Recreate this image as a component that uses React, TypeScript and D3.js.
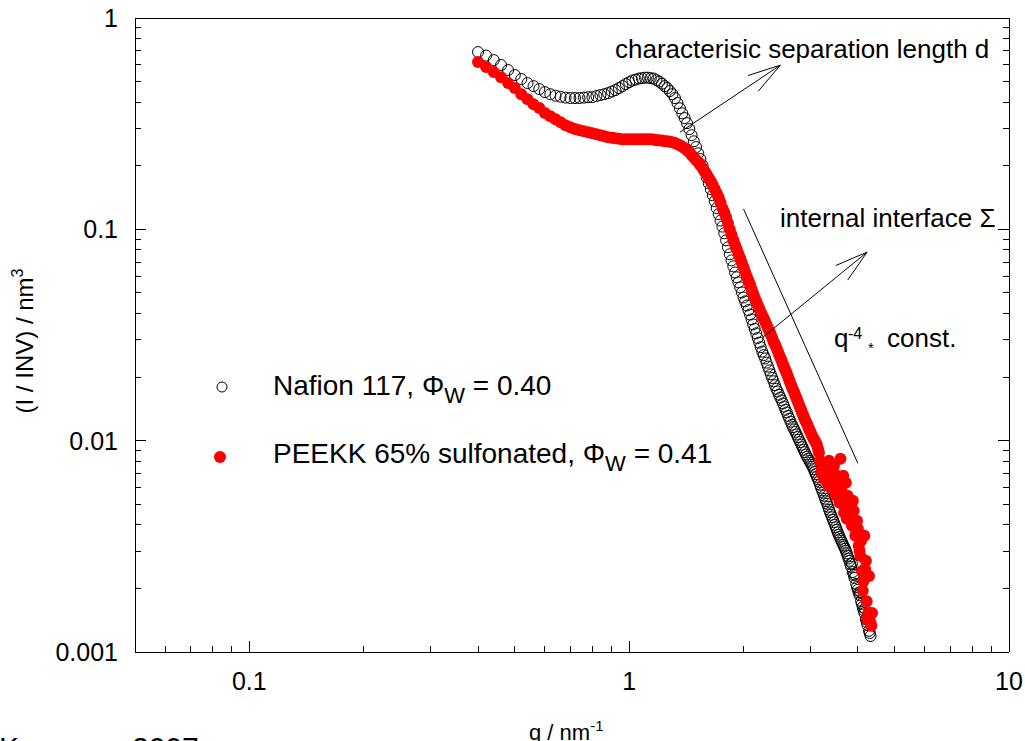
import React from 'react';
import * as d3 from 'd3';

// SAXS curves: normalised scattering intensity (I / INV, nm^3) versus q (nm^-1)
const nafion: [number, number][] = [
  [0.40, 0.690], [0.42, 0.664], [0.44, 0.632], [0.46, 0.599], [0.48, 0.567], [0.50, 0.537],
  [0.52, 0.514], [0.54, 0.492], [0.56, 0.476], [0.58, 0.461], [0.60, 0.446], [0.62, 0.436],
  [0.64, 0.429], [0.66, 0.424], [0.68, 0.420], [0.70, 0.418], [0.72, 0.418], [0.74, 0.418],
  [0.76, 0.420], [0.78, 0.422], [0.80, 0.422], [0.82, 0.427], [0.84, 0.432], [0.86, 0.436],
  [0.88, 0.441], [0.90, 0.449], [0.92, 0.456], [0.94, 0.466], [0.96, 0.476], [0.98, 0.487],
  [1.00, 0.497], [1.02, 0.506], [1.04, 0.511], [1.06, 0.517], [1.08, 0.519], [1.10, 0.522],
  [1.12, 0.522], [1.14, 0.519], [1.16, 0.517], [1.18, 0.508], [1.20, 0.500], [1.22, 0.489],
  [1.24, 0.476], [1.26, 0.466], [1.28, 0.451], [1.30, 0.436], [1.32, 0.418], [1.34, 0.396],
  [1.36, 0.374], [1.38, 0.354], [1.40, 0.336], [1.42, 0.318], [1.44, 0.298], [1.46, 0.279],
  [1.48, 0.261], [1.50, 0.245], [1.52, 0.229], [1.54, 0.215], [1.56, 0.201], [1.58, 0.188],
  [1.60, 0.176], [1.62, 0.165], [1.64, 0.155], [1.66, 0.145], [1.68, 0.136], [1.70, 0.126],
  [1.72, 0.118], [1.74, 0.110], [1.76, 0.103], [1.78, 0.0958], [1.80, 0.0887], [1.82, 0.0822],
  [1.84, 0.0762], [1.86, 0.0713], [1.88, 0.0668], [1.90, 0.0625], [1.92, 0.0593], [1.94, 0.0561],
  [1.96, 0.0531], [1.98, 0.0503], [2.00, 0.0476], [2.02, 0.0456], [2.04, 0.0436], [2.06, 0.0415],
  [2.08, 0.0395], [2.10, 0.0375], [2.12, 0.0355], [2.14, 0.0338], [2.16, 0.0322], [2.18, 0.0306],
  [2.20, 0.0291], [2.22, 0.0277], [2.24, 0.0264], [2.26, 0.0254], [2.28, 0.0245], [2.30, 0.0234],
  [2.32, 0.0224], [2.34, 0.0215], [2.36, 0.0206], [2.38, 0.0198], [2.40, 0.0191], [2.42, 0.0183],
  [2.44, 0.0176], [2.46, 0.0171], [2.48, 0.0165], [2.50, 0.0160], [2.52, 0.0155], [2.54, 0.0150],
  [2.56, 0.0145], [2.58, 0.0140], [2.60, 0.0136], [2.62, 0.0131], [2.64, 0.0127], [2.66, 0.0123],
  [2.68, 0.0119], [2.70, 0.0116], [2.72, 0.0113], [2.74, 0.0110], [2.76, 0.0107], [2.78, 0.0104],
  [2.80, 0.0101], [2.82, 0.00984], [2.84, 0.00957], [2.86, 0.00932], [2.88, 0.00906], [2.90, 0.00882],
  [2.92, 0.00859], [2.94, 0.00840], [2.96, 0.00822], [2.98, 0.00804], [3.00, 0.00787], [3.02, 0.00769],
  [3.04, 0.00753], [3.06, 0.00733], [3.08, 0.00713], [3.10, 0.00694], [3.12, 0.00675], [3.14, 0.00657],
  [3.16, 0.00639], [3.18, 0.00619], [3.20, 0.00599], [3.22, 0.00582], [3.24, 0.00567], [3.26, 0.00549],
  [3.28, 0.00531], [3.30, 0.00517], [3.32, 0.00503], [3.34, 0.00487], [3.36, 0.00471], [3.38, 0.00458],
  [3.40, 0.00446], [3.42, 0.00434], [3.44, 0.00422], [3.46, 0.00411], [3.48, 0.00400], [3.50, 0.00389],
  [3.52, 0.00379], [3.54, 0.00368], [3.56, 0.00359], [3.58, 0.00351], [3.60, 0.00343], [3.62, 0.00336],
  [3.64, 0.00329], [3.66, 0.00321], [3.68, 0.00315], [3.70, 0.00308], [3.72, 0.00301], [3.74, 0.00293],
  [3.76, 0.00285], [3.78, 0.00277], [3.80, 0.00270], [3.82, 0.00261], [3.84, 0.00253], [3.86, 0.00262],
  [3.88, 0.00239], [3.90, 0.00232], [3.92, 0.00224], [3.94, 0.00232], [3.96, 0.00210], [3.98, 0.00203],
  [4.00, 0.00197], [4.02, 0.00191], [4.04, 0.00186], [4.06, 0.00192], [4.08, 0.00174], [4.10, 0.00169],
  [4.12, 0.00163], [4.14, 0.00158], [4.16, 0.00153], [4.18, 0.00160], [4.20, 0.00143], [4.22, 0.00139],
  [4.24, 0.00134], [4.26, 0.00145], [4.28, 0.00126], [4.30, 0.00123], [4.32, 0.00119],
];

const peekk: [number, number][] = [
  [0.40, 0.619], [0.42, 0.586], [0.44, 0.555], [0.46, 0.525], [0.48, 0.492], [0.50, 0.466],
  [0.52, 0.436], [0.54, 0.413], [0.56, 0.391], [0.58, 0.375], [0.60, 0.355], [0.62, 0.343],
  [0.64, 0.332], [0.66, 0.321], [0.68, 0.311], [0.70, 0.304], [0.72, 0.298], [0.74, 0.294],
  [0.76, 0.291], [0.78, 0.288], [0.80, 0.285], [0.82, 0.282], [0.84, 0.279], [0.86, 0.276],
  [0.88, 0.273], [0.90, 0.271], [0.92, 0.270], [0.94, 0.268], [0.96, 0.267], [0.98, 0.267],
  [1.00, 0.267], [1.02, 0.267], [1.04, 0.267], [1.06, 0.267], [1.08, 0.267], [1.10, 0.267],
  [1.12, 0.267], [1.14, 0.267], [1.16, 0.266], [1.18, 0.264], [1.20, 0.264], [1.22, 0.263],
  [1.24, 0.261], [1.26, 0.261], [1.28, 0.260], [1.30, 0.258], [1.32, 0.256], [1.34, 0.253],
  [1.36, 0.250], [1.38, 0.246], [1.40, 0.242], [1.42, 0.237], [1.44, 0.232], [1.46, 0.225],
  [1.48, 0.219], [1.50, 0.213], [1.52, 0.208], [1.54, 0.201], [1.56, 0.195], [1.58, 0.188],
  [1.60, 0.182], [1.62, 0.175], [1.64, 0.169], [1.66, 0.162], [1.68, 0.155], [1.70, 0.148],
  [1.72, 0.142], [1.74, 0.134], [1.76, 0.126], [1.78, 0.120], [1.80, 0.114], [1.82, 0.107],
  [1.84, 0.100], [1.86, 0.0942], [1.88, 0.0887], [1.90, 0.0844], [1.92, 0.0804], [1.94, 0.0765],
  [1.96, 0.0730], [1.98, 0.0694], [2.00, 0.0661], [2.02, 0.0629], [2.04, 0.0599], [2.06, 0.0573],
  [2.08, 0.0549], [2.10, 0.0522], [2.12, 0.0497], [2.14, 0.0476], [2.16, 0.0456], [2.18, 0.0439],
  [2.20, 0.0422], [2.22, 0.0406], [2.24, 0.0391], [2.26, 0.0379], [2.28, 0.0366], [2.30, 0.0353],
  [2.32, 0.0340], [2.34, 0.0329], [2.36, 0.0318], [2.38, 0.0306], [2.40, 0.0294], [2.42, 0.0285],
  [2.44, 0.0276], [2.46, 0.0266], [2.48, 0.0256], [2.50, 0.0247], [2.52, 0.0239], [2.54, 0.0230],
  [2.56, 0.0222], [2.58, 0.0215], [2.60, 0.0208], [2.62, 0.0200], [2.64, 0.0193], [2.66, 0.0186],
  [2.68, 0.0180], [2.70, 0.0174], [2.72, 0.0169], [2.74, 0.0163], [2.76, 0.0158], [2.78, 0.0153],
  [2.80, 0.0148], [2.82, 0.0143], [2.84, 0.0139], [2.86, 0.0134], [2.88, 0.0130], [2.90, 0.0126],
  [2.92, 0.0123], [2.94, 0.0120], [2.96, 0.0116], [2.98, 0.0113], [3.00, 0.0110], [3.02, 0.0107],
  [3.04, 0.0104], [3.06, 0.0102], [3.08, 0.0100], [3.10, 0.00978], [3.12, 0.00957], [3.14, 0.00917],
  [3.16, 0.00877], [3.18, 0.00804], [3.20, 0.00705], [3.22, 0.00737], [3.24, 0.00787], [3.26, 0.00660],
  [3.28, 0.00737], [3.30, 0.00787], [3.32, 0.00705], [3.34, 0.00612], [3.36, 0.00804], [3.38, 0.00721],
  [3.40, 0.00660], [3.42, 0.00592], [3.44, 0.00721], [3.46, 0.00761], [3.48, 0.00612], [3.50, 0.00549],
  [3.52, 0.00683], [3.54, 0.00632], [3.56, 0.00567], [3.58, 0.00508], [3.60, 0.00822], [3.62, 0.00579],
  [3.64, 0.00519], [3.66, 0.00683], [3.68, 0.00456], [3.70, 0.00476], [3.72, 0.00632], [3.74, 0.00427],
  [3.76, 0.00549], [3.78, 0.00519], [3.80, 0.00427], [3.82, 0.00456], [3.84, 0.00492], [3.86, 0.00396],
  [3.88, 0.00519], [3.90, 0.00466], [3.92, 0.00409], [3.94, 0.00355], [3.96, 0.00375], [3.98, 0.00418],
  [4.00, 0.00383], [4.02, 0.00318], [4.04, 0.00301], [4.06, 0.00285], [4.08, 0.00336], [4.10, 0.00242],
  [4.12, 0.00195], [4.14, 0.00217], [4.16, 0.00355], [4.18, 0.00247], [4.20, 0.00270], [4.22, 0.00174],
  [4.24, 0.00143], [4.26, 0.00153], [4.28, 0.00229], [4.30, 0.00140], [4.32, 0.00137], [4.34, 0.00133],
  [4.36, 0.00153],
];

// Axis decades and their labels
const xMajor = [0.1, 1, 10];
const xMajorLabels = ['0.1', '1', '10'];
const yMajor = [0.001, 0.01, 0.1, 1];
const yMajorLabels = ['0.001', '0.01', '0.1', '1'];

// Porod guide line I = C * q^-4 over a q range
const porodRange = [2.0, 4.0];
const porodConst = 2.0;

// Annotation arrows: [tail q, tail I, tip q, tip I]
const arrowSpacing = [1.36, 0.288, 2.5, 0.598];
const arrowInterface = [2.25, 0.0309, 4.23, 0.078];

const FONT = "'Liberation Sans', Arial, Helvetica, sans-serif";

function Arrow({ x1, y1, x2, y2 }: { x1: number; y1: number; x2: number; y2: number }) {
  const ang = Math.atan2(y1 - y2, x1 - x2);
  const len = 34;
  const spread = (16 * Math.PI) / 180;
  const hx1 = x2 + len * Math.cos(ang + spread);
  const hy1 = y2 + len * Math.sin(ang + spread);
  const hx2 = x2 + len * Math.cos(ang - spread);
  const hy2 = y2 + len * Math.sin(ang - spread);
  return (
    <g stroke="#000" strokeWidth={1} fill="none">
      <line x1={x1} y1={y1} x2={x2} y2={y2} />
      <line x1={x2} y1={y2} x2={hx1} y2={hy1} />
      <line x1={x2} y1={y2} x2={hx2} y2={hy2} />
    </g>
  );
}

export default function App() {
  const x = d3.scaleLog().domain([0.05, 10]).range([135, 1009]);
  const y = d3.scaleLog().domain([0.001, 1]).range([652, 18]);
  const [xl, xr] = x.range();
  const [yb, yt] = y.range();

  const isMajor = (v: number) => Math.abs(Math.log10(v) - Math.round(Math.log10(v))) < 1e-6;
  const xTicks = x.ticks();
  const yTicks = y.ticks();
  const majorLen = 11;
  const minorLen = 6;

  const porodQ = d3.range(porodRange[0], porodRange[1] + 1e-9, (porodRange[1] - porodRange[0]) / 20);
  const porodLine = d3
    .line<number>()
    .x((q) => x(q))
    .y((q) => y(porodConst * Math.pow(q, -4)))(porodQ);

  return (
    <svg
      width={1025}
      height={741}
      style={{ position: 'absolute', left: 0, top: 0, background: '#fff' }}
      fontFamily={FONT}
    >
      <rect x={0} y={0} width={1025} height={741} fill="#fff" />

      {/* frame */}
      <g stroke="#000" strokeWidth={1} fill="none" shapeRendering="crispEdges">
        <line x1={xl} y1={yt} x2={xr} y2={yt} />
        <line x1={xl} y1={yb} x2={xr} y2={yb} />
        <line x1={xl} y1={yt} x2={xl} y2={yb} />
        <line x1={xr} y1={yt} x2={xr} y2={yb} />
      </g>

      {/* x ticks (bottom, pointing inward) */}
      <g stroke="#000" strokeWidth={1} shapeRendering="crispEdges">
        {xTicks.map((v, i) => {
          const px = x(v);
          const L = isMajor(v) ? majorLen : minorLen;
          return <line key={i} x1={px} y1={yb} x2={px} y2={yb - L} />;
        })}
      </g>
      {/* y ticks on left and right, pointing inward */}
      <g stroke="#000" strokeWidth={1} shapeRendering="crispEdges">
        {yTicks.map((v, i) => {
          const py = y(v);
          const L = isMajor(v) ? majorLen : minorLen;
          return (
            <g key={i}>
              <line x1={xl} y1={py} x2={xl + L} y2={py} />
              <line x1={xr} y1={py} x2={xr - L} y2={py} />
            </g>
          );
        })}
      </g>

      {/* tick labels */}
      <g fontSize={25} fill="#000">
        {xMajor.map((v, i) => (
          <text key={i} x={x(v)} y={690} textAnchor="middle">
            {xMajorLabels[i]}
          </text>
        ))}
        {yMajor.map((v, i) => (
          <text key={i} x={118} y={y(v) + 9} textAnchor="end">
            {yMajorLabels[i]}
          </text>
        ))}
      </g>

      {/* axis titles */}
      <text x={529} y={740} fontSize={22}>
        q / nm
        <tspan fontSize={15} dy={-9}>
          -1
        </tspan>
      </text>
      <text transform="translate(33,341) rotate(-90)" textAnchor="middle" fontSize={24}>
        (I / INV) / nm
        <tspan fontSize={16} dy={-10}>
          3
        </tspan>
      </text>

      {/* Porod q^-4 guide */}
      <path d={porodLine || ''} stroke="#000" strokeWidth={1} fill="none" />

      {/* data */}
      <g fill="none" stroke="#000" strokeWidth={1}>
        {nafion.map(([q, v], i) => (
          <circle key={i} cx={x(q)} cy={y(v)} r={5.5} />
        ))}
      </g>
      <g fill="#ff0000">
        {peekk.map(([q, v], i) => (
          <circle key={i} cx={x(q)} cy={y(v)} r={6} />
        ))}
      </g>

      {/* annotations */}
      <Arrow
        x1={x(arrowSpacing[0])}
        y1={y(arrowSpacing[1])}
        x2={x(arrowSpacing[2])}
        y2={y(arrowSpacing[3])}
      />
      <Arrow
        x1={x(arrowInterface[0])}
        y1={y(arrowInterface[1])}
        x2={x(arrowInterface[2])}
        y2={y(arrowInterface[3])}
      />
      <text x={615} y={58} fontSize={26}>
        characterisic separation length d
      </text>
      <text x={780} y={227} fontSize={26}>
        internal interface Σ
      </text>
      <text x={834} y={347} fontSize={26}>
        q
        <tspan x={848} y={339} fontSize={16}>
          -4
        </tspan>
        <tspan x={868} y={353} fontSize={15}>
          *
        </tspan>
        <tspan x={887} y={347}>
          const.
        </tspan>
      </text>

      {/* legend */}
      <circle cx={222} cy={387} r={5} fill="none" stroke="#000" strokeWidth={1} />
      <text x={273} y={395} fontSize={28}>
        Nafion 117, Φ
        <tspan fontSize={22} dy={8}>
          W
        </tspan>
        <tspan dy={-8}> = 0.40</tspan>
      </text>
      <circle cx={220} cy={457} r={6} fill="#ff0000" />
      <text x={273} y={463} fontSize={28}>
        PEEKK 65% sulfonated, Φ
        <tspan fontSize={22} dy={8}>
          W
        </tspan>
        <tspan dy={-8}> = 0.41</tspan>
      </text>

      {/* source note */}
      <text x={-1} y={758} fontSize={30}>
        Kreuer
        <tspan x={132}>2007</tspan>
      </text>
    </svg>
  );
}
